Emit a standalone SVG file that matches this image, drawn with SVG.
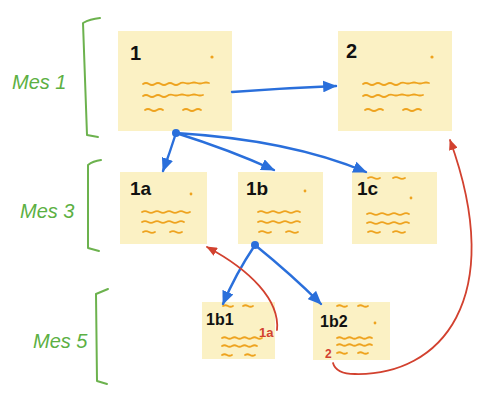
<svg xmlns="http://www.w3.org/2000/svg" width="497" height="414" viewBox="0 0 497 414">
<style>
.card{fill:#fbf1c4}
.w{fill:none;stroke:#eea31f;stroke-width:1.8;stroke-linecap:round;stroke-linejoin:round}
.dot{fill:#eea31f}
.lbl{font-family:"Liberation Sans",Arial,sans-serif;font-weight:bold;fill:#111}
.mes{font-family:"Liberation Sans",Arial,sans-serif;font-style:italic;font-size:20px;fill:#5cb043}
.br{fill:none;stroke:#6cb24e;stroke-width:2;stroke-linecap:round;stroke-linejoin:round}
.blue{fill:none;stroke:#2a6fdb;stroke-width:2.4;stroke-linecap:round}
.red{fill:none;stroke:#d2412f;stroke-width:1.8;stroke-linecap:round}
.rt{font-family:"Liberation Sans",Arial,sans-serif;font-weight:bold;fill:#d2412f}
</style>
<defs>
<marker id="ab" viewBox="0 0 12 10" refX="11" refY="5" markerWidth="14" markerHeight="12" markerUnits="userSpaceOnUse" orient="auto"><path d="M0 0 L12 5 L0 10 Z" fill="#2a6fdb"/></marker>
<marker id="ar" viewBox="0 0 12 10" refX="11" refY="5" markerWidth="11" markerHeight="9" markerUnits="userSpaceOnUse" orient="auto"><path d="M0 0 L12 5 L0 10 Z" fill="#d2412f"/></marker>
</defs>
<rect width="497" height="414" fill="#ffffff"/>

<g id="months">
<path class="br" d="M100 18 Q90 19 83 23 L87 135 L98 137"/>
<text class="mes" x="12" y="89">Mes 1</text>
<path class="br" d="M101 160 Q93 161 88 165 L88 248 L99 251"/>
<text class="mes" x="20" y="218">Mes 3</text>
<path class="br" d="M108 289 L96 294 L97 381 L107 384"/>
<text class="mes" x="33" y="348">Mes 5</text>
</g>

<g id="n1">
<rect class="card" x="118" y="31" width="114" height="100"/>
<text class="lbl" x="130" y="60" font-size="20">1</text>
<circle class="dot" cx="212" cy="57" r="1.6"/>
<path class="w" d="M143 84 q3 -2 6 0 t6 0 t6 0 t6 0 t6 0 t6 0 t6 -1 t6 0 t6 0 t6 0 t6 0"/>
<path class="w" d="M143 96 q3 -2 6 0 t6 0 t6 0 t6 0 t6 -1 t6 0 t6 0 t6 0 t6 0 t6 0"/>
<path class="w" d="M145 110 q3 -2 6 0 t6 0 t6 0"/>
<path class="w" d="M183 110 q3 -2 6 0 t6 0 t6 0"/>
</g>

<g id="n2">
<rect class="card" x="338" y="31" width="114" height="100"/>
<text class="lbl" x="346" y="58" font-size="20">2</text>
<circle class="dot" cx="432" cy="57" r="1.6"/>
<path class="w" d="M363 84 q3 -2 6 0 t6 0 t6 0 t6 0 t6 0 t6 0 t6 -1 t6 0 t6 0 t6 0 t6 0"/>
<path class="w" d="M363 96 q3 -2 6 0 t6 0 t6 0 t6 0 t6 -1 t6 0 t6 0 t6 0 t6 0 t6 0"/>
<path class="w" d="M365 110 q3 -2 6 0 t6 0 t6 0"/>
<path class="w" d="M403 110 q3 -2 6 0 t6 0 t6 0"/>
</g>

<g id="n1a">
<rect class="card" x="120" y="172" width="87" height="72"/>
<text class="lbl" x="130" y="195" font-size="19">1a</text>
<circle class="dot" cx="191" cy="194" r="1.4"/>
<path class="w" d="M142 212 q3 -1.8 6 0 t6 0 t6 0 t6 0 t6 0 t6 0 t6 0 t6 0"/>
<path class="w" d="M142 222 q3 -1.8 6 0 t6 0 t6 0 t6 0 t6 0 t6 0 t6 0"/>
<path class="w" d="M143 232 q3 -1.8 6 0 t6 0"/>
<path class="w" d="M170 232 q3 -1.8 6 0 t6 0"/>
</g>

<g id="n1b">
<rect class="card" x="238" y="172" width="85" height="72"/>
<text class="lbl" x="246" y="195" font-size="19">1b</text>
<circle class="dot" cx="305" cy="191" r="1.4"/>
<path class="w" d="M258 212 q3 -1.8 6 0 t6 0 t6 0 t6 0 t6 0 t6 0 t6 0"/>
<path class="w" d="M258 222 q3 -1.8 6 0 t6 0 t6 0 t6 0 t6 0 t6 0 t6 0"/>
<path class="w" d="M259 232 q3 -1.8 6 0 t6 0"/>
<path class="w" d="M286 232 q3 -1.8 6 0 t6 0"/>
</g>

<g id="n1c">
<rect class="card" x="352" y="172" width="85" height="72"/>
<text class="lbl" x="357" y="195" font-size="19">1c</text>
<path class="w" d="M368 178 q3 -1.8 6 0 t6 0"/>
<path class="w" d="M393 178 q3 -1.8 6 0 t6 0"/>
<circle class="dot" cx="411" cy="198" r="1.4"/>
<path class="w" d="M367 214 q3 -1.8 6 0 t6 0 t6 0 t6 0 t6 0 t6 0 t6 0"/>
<path class="w" d="M367 223 q3 -1.8 6 0 t6 0 t6 0 t6 0 t6 0 t6 0 t6 0"/>
<path class="w" d="M368 232 q3 -1.8 6 0 t6 0"/>
<path class="w" d="M393 232 q3 -1.8 6 0 t6 0"/>
</g>

<g id="n1b1">
<rect class="card" x="202" y="302" width="73" height="57"/>
<path class="w" d="M223 306 q2.5 -1.5 5 0 t5 0"/>
<path class="w" d="M243 306 q2.5 -1.5 5 0 t5 0"/>
<text class="lbl" x="206" y="325" font-size="16">1b1</text>
<path class="w" d="M222 338 q2.5 -1.5 5 0 t5 0 t5 0 t5 0 t5 0 t5 0 t5 0 t5 0"/>
<path class="w" d="M222 346 q2.5 -1.5 5 0 t5 0 t5 0 t5 0 t5 0 t5 0 t5 0"/>
<path class="w" d="M222 355 q2.5 -1.5 5 0 t5 0"/>
<path class="w" d="M245 355 q2.5 -1.5 5 0 t5 0"/>
<text class="rt" x="259" y="337" font-size="13">1a</text>
</g>

<g id="n1b2">
<rect class="card" x="313" y="302" width="77" height="58"/>
<path class="w" d="M337 306 q2.5 -1.5 5 0 t5 0"/>
<path class="w" d="M358 306 q2.5 -1.5 5 0 t5 0"/>
<text class="lbl" x="320" y="327" font-size="16">1b2</text>
<circle class="dot" cx="375" cy="323" r="1.4"/>
<path class="w" d="M337 338 q2.5 -1.5 5 0 t5 0 t5 0 t5 0 t5 0 t5 0 t5 0"/>
<path class="w" d="M337 345 q2.5 -1.5 5 0 t5 0 t5 0 t5 0 t5 0 t5 0 t5 0"/>
<path class="w" d="M337 353 q2.5 -1.5 5 0 t5 0"/>
<path class="w" d="M358 353 q2.5 -1.5 5 0 t5 0"/>
<text class="rt" x="325" y="358" font-size="12">2</text>
</g>

<g id="connectors">
<path class="blue" d="M232 92 Q285 88 336 86" marker-end="url(#ab)"/>
<circle cx="176" cy="133" r="4" fill="#2a6fdb"/>
<path class="blue" d="M176 133 Q170 152 163 171" marker-end="url(#ab)"/>
<path class="blue" d="M176 133 Q230 150 274 170" marker-end="url(#ab)"/>
<path class="blue" d="M176 133 Q290 140 366 172" marker-end="url(#ab)"/>
<circle cx="255" cy="245" r="4" fill="#2a6fdb"/>
<path class="blue" d="M255 245 Q235 275 223 304" marker-end="url(#ab)"/>
<path class="blue" d="M255 245 Q292 275 321 304" marker-end="url(#ab)"/>
<path class="red" d="M277 330 C280 300 250 270 207 247" marker-end="url(#ar)"/>
<path class="red" d="M333 363 Q336 374 355 374 C440 376 508 300 450 140" marker-end="url(#ar)"/>
</g>
</svg>
